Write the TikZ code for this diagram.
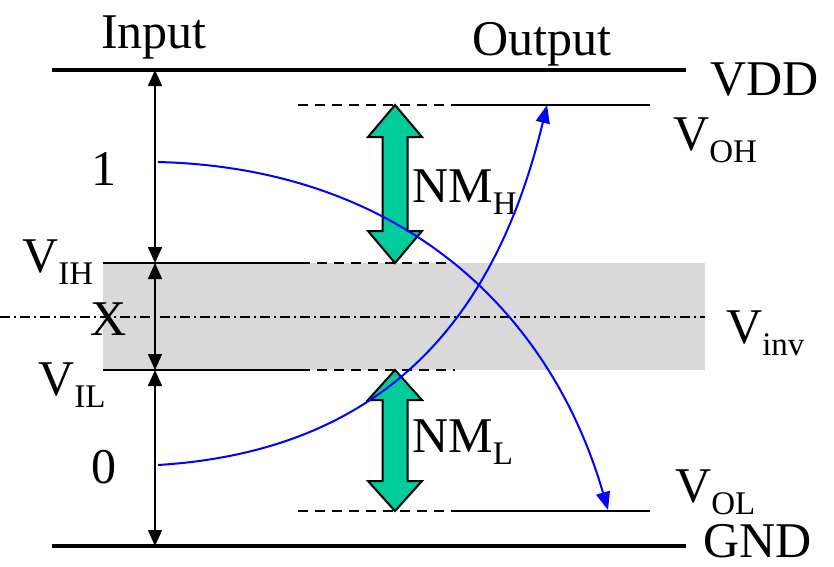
\documentclass[tikz,border=0pt]{standalone}
\usepackage{fontspec}
\setmainfont{Liberation Serif}
\usetikzlibrary{arrows.meta}
\definecolor{mint}{RGB}{0,204,153}
\definecolor{band}{RGB}{217,217,217}
\newcommand{\mysub}[1]{\raisebox{-12.5pt}{\fontsize{33}{33}\selectfont #1}}
\tikzset{
  lbl/.style={font=\fontsize{50}{50}\selectfont, inner sep=0pt, anchor=base west},
  rail/.style={line width=4pt},
  lvl/.style={line width=2pt},
  dashlvl/.style={line width=2pt, dash pattern=on 10pt off 7pt},
  dimarrow/.style={line width=1.6pt, {Triangle[length=16pt,width=14pt]}-{Triangle[length=16pt,width=14pt]}},
  curve/.style={blue, line width=2pt, -{Triangle[length=18pt,width=14pt]}},
  nmarrow/.style={fill=mint, draw=black, line width=2pt, line join=miter}
}
\begin{document}
\begin{tikzpicture}[x=1pt,y=-1pt]
\useasboundingbox (0,0) rectangle (834,566);
% band
\fill[band] (103,263) rectangle (705,370);
% coordinates
\coordinate (vddL) at (52,70);  \coordinate (vddR) at (686,70);
\coordinate (gndL) at (52,546); \coordinate (gndR) at (686,546);
\coordinate (ihL) at (103,263); \coordinate (ihM) at (300,263); \coordinate (ihR) at (455,263);
\coordinate (ilL) at (103,370); \coordinate (ilM) at (300,370); \coordinate (ilR) at (455,370);
\coordinate (ohL) at (298,105); \coordinate (ohM) at (455,105); \coordinate (ohR) at (650,105);
\coordinate (olL) at (298,511); \coordinate (olM) at (455,511); \coordinate (olR) at (650,511);
\coordinate (invL) at (0,317); \coordinate (invR) at (705,317);
\coordinate (a0) at (155,70); \coordinate (a1) at (155,263); \coordinate (a2) at (155,370); \coordinate (a3) at (155,546);
% rails
\draw[rail] (vddL) -- (vddR);
\draw[rail] (gndL) -- (gndR);
% levels
\draw[lvl] (ihL) -- (ihM); \draw[dashlvl] (ihM) -- (ihR);
\draw[lvl] (ilL) -- (ilM); \draw[dashlvl] (ilM) -- (ilR);
\draw[dashlvl] (ohL) -- (ohM); \draw[lvl] (ohM) -- (ohR);
\draw[dashlvl] (olL) -- (olM); \draw[lvl] (olM) -- (olR);
\draw[line width=1.5pt, dash pattern=on 10pt off 4pt on 2pt off 4pt] (invL) -- (invR);
% dimension arrows
\draw[dimarrow] (a0) -- (a1);
\draw[dimarrow] (a1) -- (a2);
\draw[dimarrow] (a2) -- (a3);
% noise margin arrows
\draw[nmarrow] (395,105) -- (422,137) -- (407.5,137) -- (407.5,231) -- (422,231) -- (395,263)
  -- (368,231) -- (382.5,231) -- (382.5,137) -- (368,137) -- cycle;
\draw[nmarrow] (395,370) -- (422,400) -- (407.5,400) -- (407.5,481) -- (422,481) -- (395,511)
  -- (368,481) -- (382.5,481) -- (382.5,400) -- (368,400) -- cycle;
% labels
\node[lbl] (input) at (101,48) {Input};
\node[lbl] (output) at (472,55) {Output};
\node[lbl] (vdd) at (710,95) {VDD};
\node[lbl] (gnd) at (703,557) {GND};
\node[lbl] (voh) at (673,150) {V\mysub{OH}};
\node[lbl] (vinv) at (726,343) {V\mysub{inv}};
\node[lbl] (vol) at (675,502) {V\mysub{OL}};
\node[lbl] (one) at (91,185) {1};
\node[lbl] (zero) at (91,483) {0};
\node[lbl] (vih) at (22,272) {V\mysub{IH}};
\node[lbl] (x) at (90,335) {X};
\node[lbl] (vil) at (38,395) {V\mysub{IL}};
\node[lbl] (nmh) at (412,202) {NM\mysub{H}};
\node[lbl] (nml) at (412,452) {NM\mysub{L}};
% transfer curves
\coordinate (c1s) at (158,162); \coordinate (c1e) at (608,510);
\coordinate (c2s) at (158,465); \coordinate (c2e) at (547,105);
\draw[curve] (c1s) .. controls (400,168) and (550,310) .. (c1e);
\draw[curve] (c2s) .. controls (400,450) and (500,300) .. (c2e);
\end{tikzpicture}
\end{document}
